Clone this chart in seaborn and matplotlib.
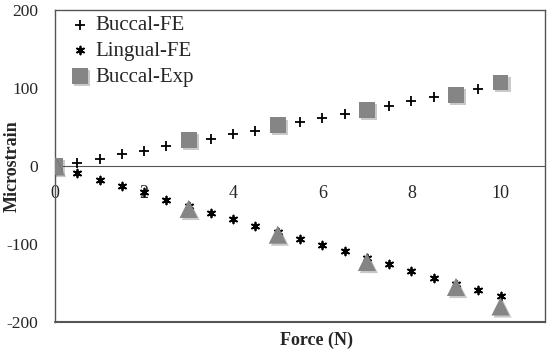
import matplotlib
matplotlib.use("Agg")
import matplotlib.pyplot as plt
import matplotlib.patheffects as pe
import seaborn as sns
import pandas as pd

sns.set_style("white")
plt.rcParams['font.family'] = ['Liberation Serif', 'DejaVu Serif']

fe_force = [0.5, 1, 1.5, 2, 2.5, 3, 3.5, 4, 4.5, 5, 5.5, 6, 6.5, 7, 7.5, 8, 8.5, 9, 9.5, 10]
buccal_fe = [4, 9, 15, 19, 25, 30, 35, 41, 45, 51, 56, 61.5, 66.5, 72, 77, 83, 88, 93, 99, 104]
lingual_fe = [-9, -18, -26, -33, -43, -51, -60, -68, -76.5, -85, -93, -101, -109, -118, -126, -134, -143, -151, -159, -167]

exp_force = [0, 3, 5, 7, 9, 10]
buccal_exp = [0, 33, 52, 72, 91, 107]
lingual_exp = [0, -55, -88, -123, -155, -180]

xticks = [0, 2, 4, 6, 8, 10]
yticks = [-200, -100, 0, 100, 200]

df_fe = pd.DataFrame({"force": fe_force, "buccal": buccal_fe, "lingual": lingual_fe})
df_exp = pd.DataFrame({"force": exp_force, "buccal": buccal_exp, "lingual": lingual_exp})

fig = plt.figure(figsize=(5.5, 3.52), dpi=100)
ax = fig.add_axes([0.1, 0.085, 0.891, 0.887])

shadow = [pe.SimplePatchShadow(offset=(1.5, -1.5), shadow_rgbFace=(0.3, 0.3, 0.3), alpha=0.3),
          pe.Normal()]

sns.scatterplot(data=df_fe, x="force", y="buccal", marker="+", s=55, color="black",
                linewidth=1.3, ax=ax, zorder=3, label="Buccal-FE")
sns.scatterplot(data=df_fe, x="force", y="lingual", marker=(6, 2, 0), s=32, color="black",
                linewidth=1.3, ax=ax, zorder=3, label="Lingual-FE")
sns.scatterplot(data=df_exp, x="force", y="buccal", marker="s", s=130, color="#858585",
                edgecolor="none", ax=ax, zorder=4, label="Buccal-Exp")
sns.scatterplot(data=df_exp, x="force", y="lingual", marker="^", s=170, color="#858585",
                edgecolor="none", ax=ax, zorder=4, label="_nolegend_")
for coll in ax.collections[2:4]:
    coll.set_path_effects(shadow)

for s in ["top", "right", "left"]:
    ax.spines[s].set_color("#555555")
    ax.spines[s].set_linewidth(1.0)
ax.spines["bottom"].set_position(("data", 0))
ax.spines["bottom"].set_color("#555555")
ax.axhline(-200, color="#555555", lw=1.5, clip_on=False, zorder=5)

ax.set_xlim(0, 11)
ax.set_ylim(-200, 200)
ax.set_xticks(xticks)
ax.set_yticks(yticks)
ax.set_xticklabels([str(t) for t in xticks], fontsize=13)
ax.set_yticklabels([str(t) for t in yticks], fontsize=12.5)
ax.tick_params(axis="both", length=0)
ax.tick_params(axis="y", pad=12)
ax.tick_params(axis="x", pad=14)

ax.set_xlabel("")
ax.set_ylabel("")
fig.text(0.022, 1 - 166 / 352, "Microstrain", ha="center", va="center", rotation=90,
         fontsize=13, fontweight="bold")
fig.text(0.575, 0.034, "Force (N)", ha="center", va="center", fontsize=13, fontweight="bold")

handles, labels = ax.get_legend_handles_labels()
order = [labels.index(l) for l in ["Buccal-FE", "Lingual-FE", "Buccal-Exp"]]
ax.legend([handles[i] for i in order], [labels[i] for i in order], loc="upper left",
          bbox_to_anchor=(0.004, 1.022), frameon=False, fontsize=15, handletextpad=0.25,
          handlelength=1.0, labelspacing=0.3, borderaxespad=0.2)

fig.savefig("out.png", dpi=100)
